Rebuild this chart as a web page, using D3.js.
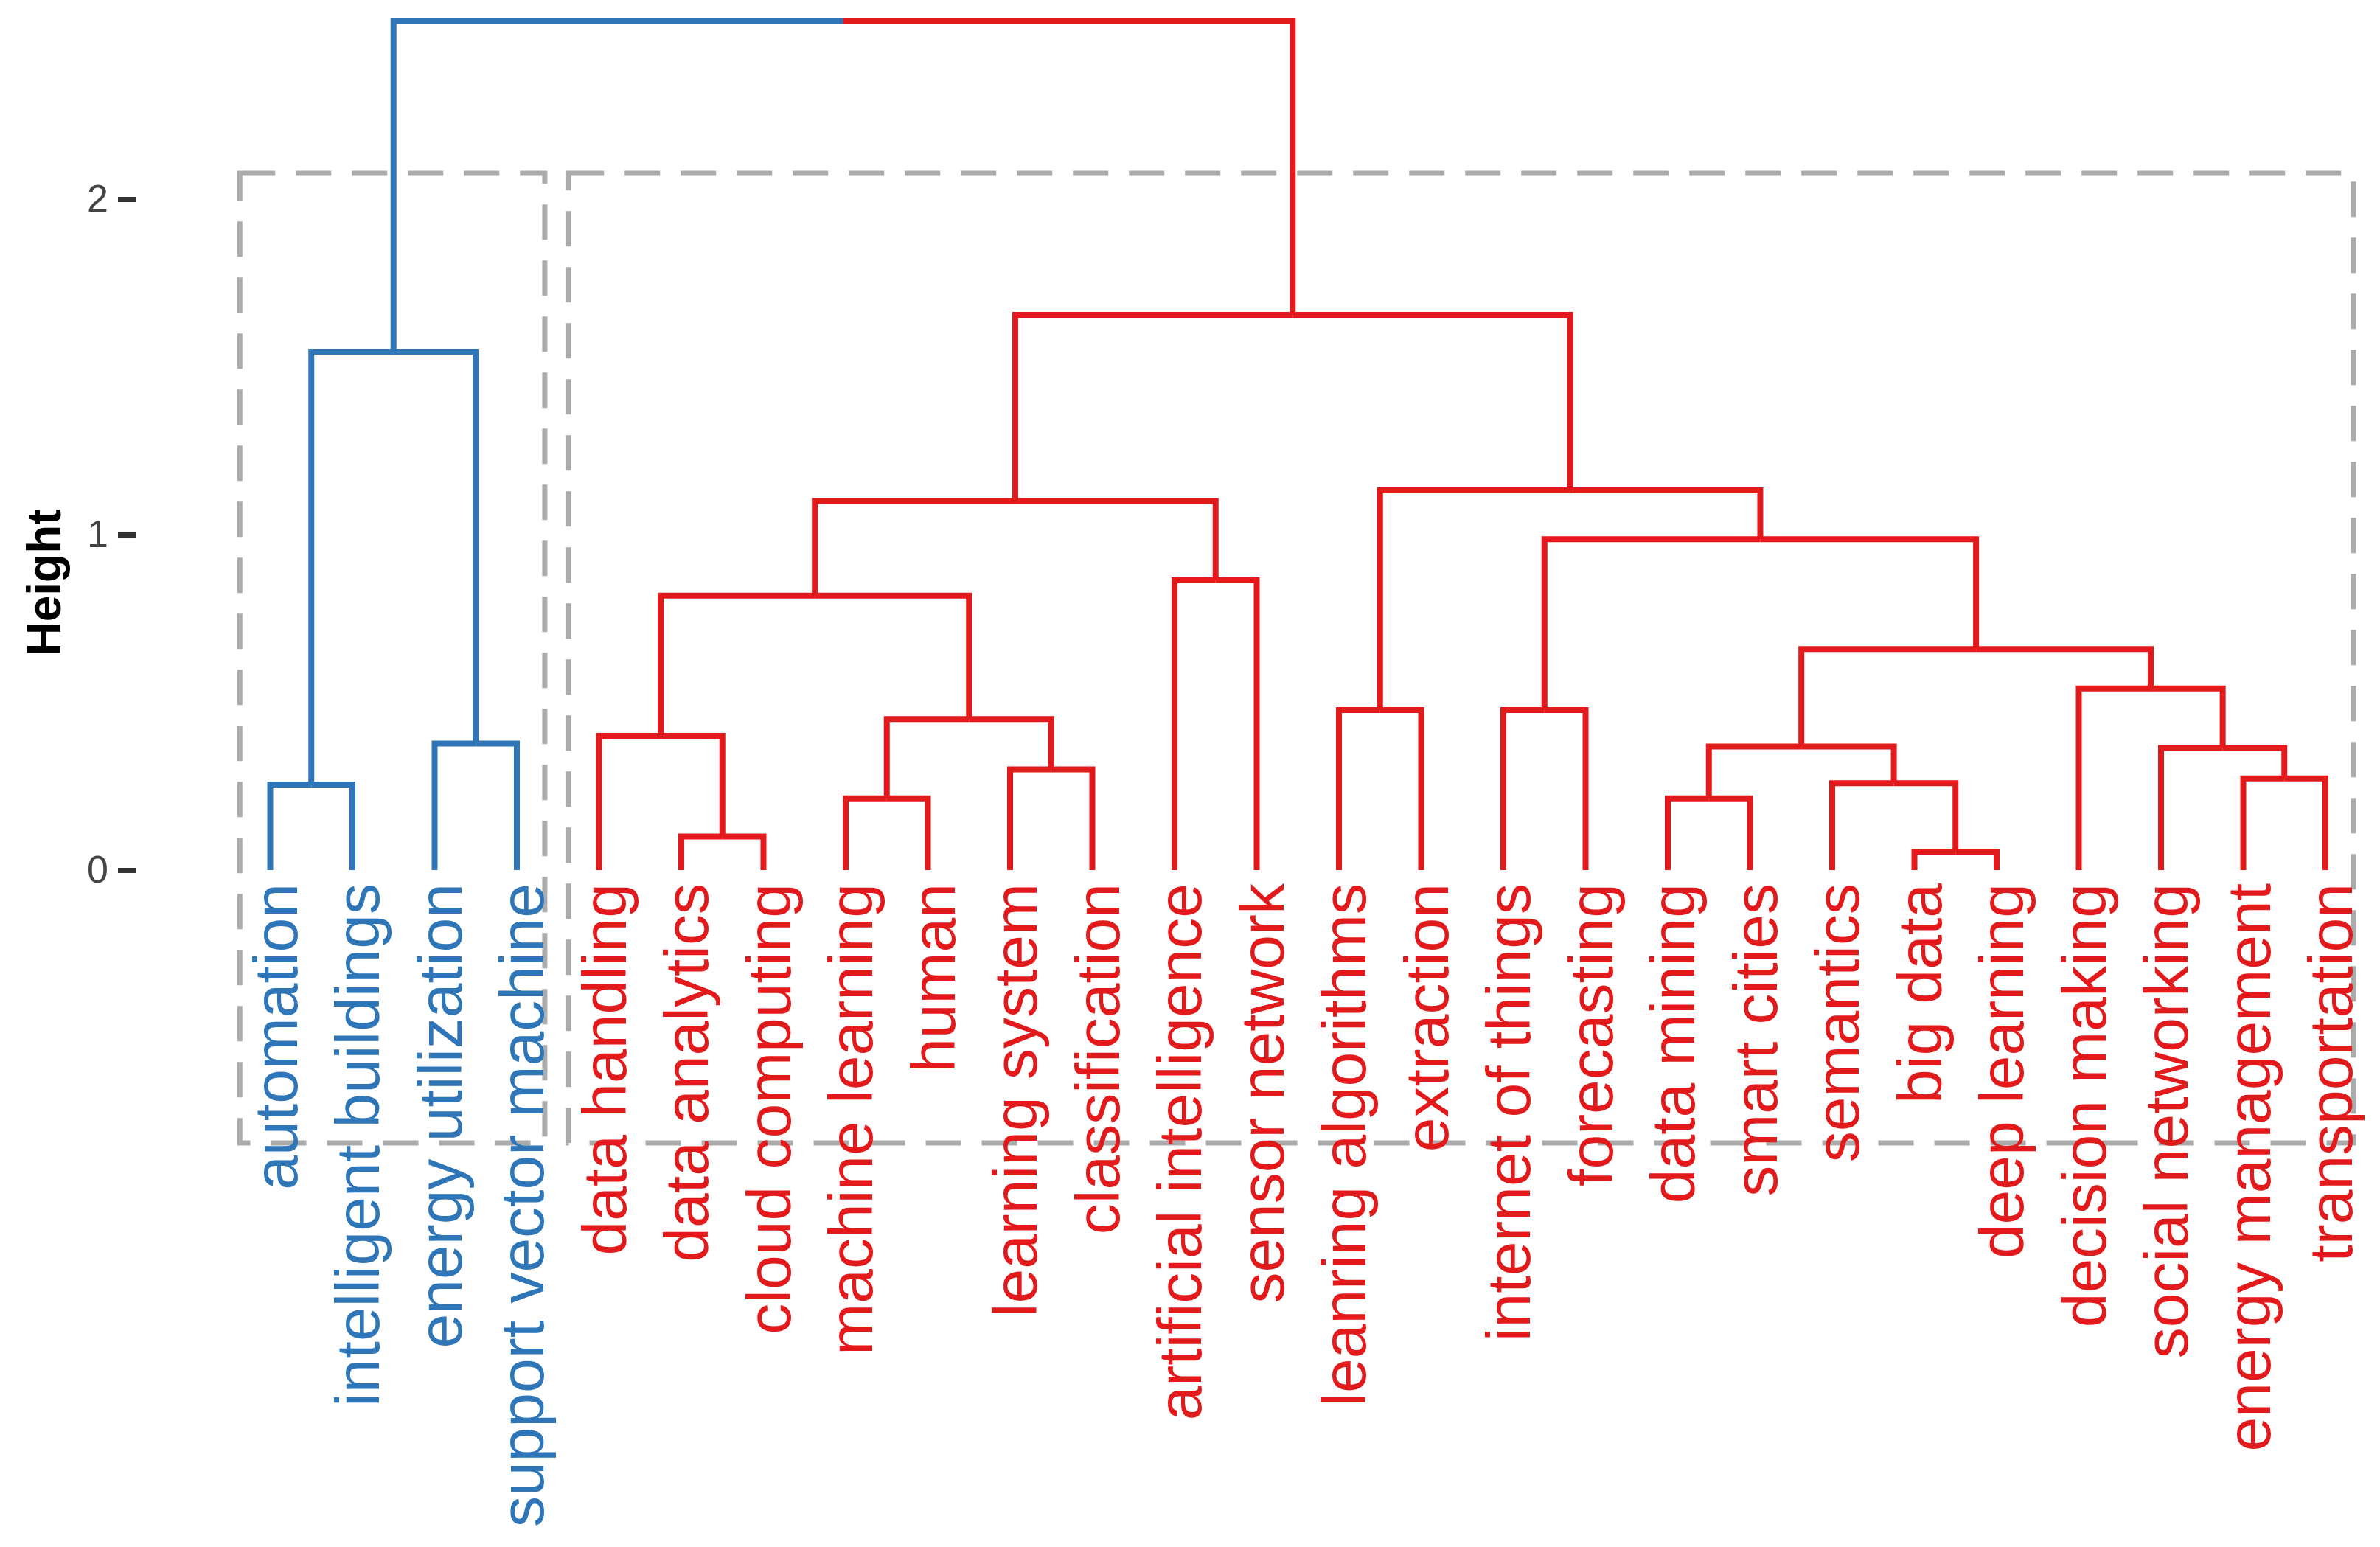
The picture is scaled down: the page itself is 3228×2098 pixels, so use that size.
<!DOCTYPE html>
<html><head><meta charset="utf-8">
<script src="https://cdn.jsdelivr.net/npm/d3@7/dist/d3.min.js"></script>
<style>html,body{margin:0;padding:0;background:#fff;}</style>
</head><body>
<svg id="chart" width="3228" height="2098"></svg>
<script>
// Leaf labels in dendrogram order
const labels = [
  "automation","intelligent buildings","energy utilization","support vector machine",
  "data handling","data analytics","cloud computing","machine learning","human",
  "learning system","classification","artificial intelligence","sensor network",
  "leanring algorithms","extraction","internet of things","forecasting","data mining",
  "smart cities","semantics","big data","deep learning","decision making",
  "social networking","energy management","transportation"
];
// hclust-style merge table: negative = leaf -(index+1), positive = earlier merge (1-based)
const mergeLeft   = [-21, -6, -8, -18, -1, -20, -25, -10, -24,  4, -3, -5,  3, -14, -16, -23, 10, 12, -12, 15, 18, 14,  5, 21, 23];
const mergeRight  = [-22, -7, -9, -19, -2,   1, -26, -11,   7,  6, -4,  2,  8, -15, -17,   9, 16, 13, -13, 17, 19, 20, 11, 22, 24];
const mergeHeight = [0.055,0.10,0.214,0.214,0.255,0.259,0.273,0.30,0.364,0.368,0.377,0.40,0.45,0.477,0.477,0.541,0.659,0.818,0.864,0.986,1.10,1.132,1.545,1.655,2.532];
const yTicks = [0, 1, 2];
const clusterColors = ["#2E76B8", "#E31A1C"];
const rectTopHeight = 2.077, rectBottomHeight = -0.813;

const svg = d3.select("#chart");
const font = "'Liberation Sans', Arial, Helvetica, sans-serif";

const x = d3.scaleLinear().domain([0, labels.length - 1]).range([366.5, 3154]);
const y = d3.scaleLinear().domain([0, 2]).range([1180, 270]);

const nodeX = {};
function key(c) { return c < 0 ? "L" + (-c - 1) : "M" + c; }
function getX(c) {
  if (c < 0) return x(-c - 1);
  const k = "M" + c;
  if (nodeX[k] === undefined) nodeX[k] = (getX(mergeLeft[c - 1]) + getX(mergeRight[c - 1])) / 2;
  return nodeX[k];
}
function getH(c) { return c < 0 ? 0 : mergeHeight[c - 1]; }

// cluster assignment (k = 2): children of the root
const rootId = mergeHeight.length;
const clusterOf = {};
function assign(c, cl) {
  clusterOf[key(c)] = cl;
  if (c > 0) { assign(mergeLeft[c - 1], cl); assign(mergeRight[c - 1], cl); }
}
assign(mergeLeft[rootId - 1], 0);
assign(mergeRight[rootId - 1], 1);

const segs = [];
mergeLeft.forEach((l, i) => {
  const id = i + 1;
  [l, mergeRight[i]].forEach(c => segs.push({ parent: id, child: c }));
});

// cluster rectangles
const clusters = [0, 1].map(cl => {
  const idx = labels.map((d, i) => i).filter(i => clusterOf["L" + i] === cl);
  return { cl, first: d3.min(idx), last: d3.max(idx) };
});
svg.append("g").selectAll("rect").data(clusters).join("rect")
  .attr("x", d => x(d.first - 0.37))
  .attr("width", d => x(d.last + 0.34) - x(d.first - 0.37))
  .attr("y", y(rectTopHeight))
  .attr("height", y(rectBottomHeight) - y(rectTopHeight))
  .attr("fill", "none")
  .attr("stroke", "#ABABAB")
  .attr("stroke-width", 7)
  .attr("stroke-dasharray", "48,28");

// dendrogram branches
svg.append("g").selectAll("path").data(segs).join("path")
  .attr("d", d => `M${getX(d.child)},${y(getH(d.child))}V${y(getH(d.parent))}H${getX(d.parent)}`)
  .attr("fill", "none")
  .attr("stroke", d => clusterColors[clusterOf[key(d.child)]])
  .attr("stroke-width", 8)
  .attr("stroke-linejoin", "miter");

// leaf labels
svg.append("g").selectAll("text").data(labels).join("text")
  .attr("transform", (d, i) => `translate(${x(i)},${y(0) + 18}) rotate(-90)`)
  .attr("text-anchor", "end")
  .attr("dy", "0.43em")
  .attr("font-family", font)
  .attr("font-size", 84)
  .attr("fill", (d, i) => clusterColors[clusterOf["L" + i]])
  .text(d => d);

// y axis
const axis = svg.append("g")
  .attr("transform", "translate(184,0)")
  .call(d3.axisLeft(y).tickValues(yTicks).tickFormat(d3.format("d")).tickSize(24).tickPadding(13));
axis.select(".domain").remove();
axis.selectAll(".tick line").attr("stroke", "#333333").attr("stroke-width", 7);
axis.selectAll(".tick text").attr("fill", "#444444").attr("font-size", 52).attr("font-family", font);

// axis title
svg.append("text")
  .attr("transform", "translate(82,790) rotate(-90)")
  .attr("text-anchor", "middle")
  .attr("font-family", font)
  .attr("font-weight", "bold")
  .attr("font-size", 64)
  .attr("fill", "#000")
  .text("Height");
</script>
</body></html>
